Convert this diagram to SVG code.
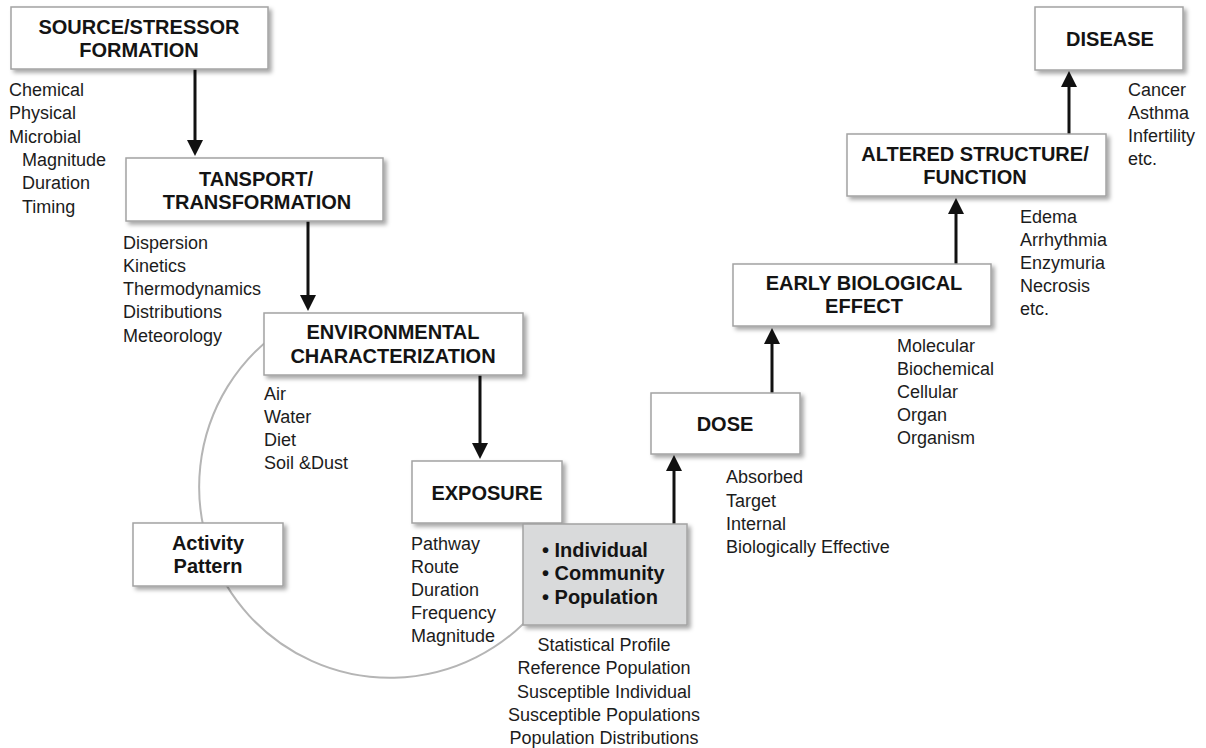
<svg xmlns="http://www.w3.org/2000/svg" width="1206" height="748" viewBox="0 0 1206 748">
<defs>
<filter id="sh" x="-10%" y="-10%" width="125%" height="130%">
<feDropShadow dx="3" dy="3" stdDeviation="2" flood-color="#000" flood-opacity="0.35"/>
</filter>
<marker id="ah" markerUnits="userSpaceOnUse" markerWidth="17" markerHeight="16" refX="6" refY="8" orient="auto">
<path d="M0,0 L16,8 L0,16 z" fill="#111"/>
</marker>
<style>
.box{fill:#fff;stroke:#a3a3a3;stroke-width:1.5;filter:url(#sh)}
.gbox{fill:#d9dadb;stroke:#a3a3a3;stroke-width:1.5;filter:url(#sh)}
.t{font-family:"Liberation Sans",Arial,sans-serif;font-weight:bold;font-size:20px;fill:#141414;text-anchor:middle}
.tl{font-family:"Liberation Sans",Arial,sans-serif;font-weight:bold;font-size:20px;fill:#141414}
.s{font-family:"Liberation Sans",Arial,sans-serif;font-size:18px;fill:#1c1c1c}
.sc{font-family:"Liberation Sans",Arial,sans-serif;font-size:18px;fill:#1c1c1c;text-anchor:middle}
.arr{stroke:#111;stroke-width:3;fill:none;marker-end:url(#ah)}
.arc{stroke:#b5b5b5;stroke-width:2;fill:none}
</style>
</defs>
<rect width="1206" height="748" fill="#fff"/>

<g id="connectors">
<path class="arc" d="M280.4,330.5 A191,191 0 1 0 536.3,609.8"/>
<path class="arr" d="M195,69 L195,146"/>
<path class="arr" d="M308,221 L308,301"/>
<path class="arr" d="M480,374 L480,449"/>
<path class="arr" d="M674,524 L674,465"/>
<path class="arr" d="M772,393 L772,338"/>
<path class="arr" d="M956,264 L956,208"/>
<path class="arr" d="M1069,134 L1069,81"/>
</g>

<g id="source">
<rect class="box" x="11" y="7" width="257" height="62"/>
<text class="t" x="139" y="34">SOURCE/STRESSOR</text>
<text class="t" x="139" y="57">FORMATION</text>
<text class="s" x="9" y="96">Chemical</text>
<text class="s" x="9" y="119">Physical</text>
<text class="s" x="9" y="142.5">Microbial</text>
<text class="s" x="22" y="166">Magnitude</text>
<text class="s" x="22" y="189">Duration</text>
<text class="s" x="22" y="212.5">Timing</text>
</g>

<g id="transport">
<rect class="box" x="126" y="158" width="257" height="63"/>
<text class="t" x="256" y="186">TANSPORT/</text>
<text class="t" x="257" y="208.5">TRANSFORMATION</text>
<text class="s" x="123" y="248.5">Dispersion</text>
<text class="s" x="123" y="271.8">Kinetics</text>
<text class="s" x="123" y="295">Thermodynamics</text>
<text class="s" x="123" y="318.4">Distributions</text>
<text class="s" x="123" y="341.7">Meteorology</text>
</g>

<g id="environmental">
<rect class="box" x="264" y="313" width="259" height="62"/>
<text class="t" x="393" y="339">ENVIRONMENTAL</text>
<text class="t" x="393" y="362.5">CHARACTERIZATION</text>
<text class="s" x="264" y="400">Air</text>
<text class="s" x="264" y="423">Water</text>
<text class="s" x="264" y="446">Diet</text>
<text class="s" x="264" y="469">Soil &amp;Dust</text>
</g>

<g id="activity">
<rect class="box" x="133" y="523" width="150" height="63"/>
<text class="t" x="208" y="549.5">Activity</text>
<text class="t" x="208" y="572.5">Pattern</text>
</g>

<g id="exposure">
<rect class="box" x="412" y="461" width="150" height="62"/>
<text class="t" x="487" y="500">EXPOSURE</text>
<text class="s" x="411" y="550">Pathway</text>
<text class="s" x="411" y="572.5">Route</text>
<text class="s" x="411" y="596">Duration</text>
<text class="s" x="411" y="619">Frequency</text>
<text class="s" x="411" y="642">Magnitude</text>
</g>

<g id="population">
<rect class="gbox" x="523" y="524" width="164" height="101"/>
<text class="tl" x="542" y="557">• Individual</text>
<text class="tl" x="542" y="580">• Community</text>
<text class="tl" x="542" y="603.5">• Population</text>
<text class="sc" x="604" y="651">Statistical Profile</text>
<text class="sc" x="604" y="674">Reference Population</text>
<text class="sc" x="604" y="697.5">Susceptible Individual</text>
<text class="sc" x="604" y="720.5">Susceptible Populations</text>
<text class="sc" x="604" y="743.5">Population Distributions</text>
</g>

<g id="dose">
<rect class="box" x="651" y="393" width="149" height="61"/>
<text class="t" x="725" y="431">DOSE</text>
<text class="s" x="726" y="483">Absorbed</text>
<text class="s" x="726" y="506.5">Target</text>
<text class="s" x="726" y="530">Internal</text>
<text class="s" x="726" y="553">Biologically Effective</text>
</g>

<g id="early">
<rect class="box" x="733" y="264" width="258" height="62"/>
<text class="t" x="864" y="290">EARLY BIOLOGICAL</text>
<text class="t" x="864" y="313">EFFECT</text>
<text class="s" x="897" y="352">Molecular</text>
<text class="s" x="897" y="375">Biochemical</text>
<text class="s" x="897" y="398">Cellular</text>
<text class="s" x="897" y="421">Organ</text>
<text class="s" x="897" y="444">Organism</text>
</g>

<g id="altered">
<rect class="box" x="847" y="134" width="259" height="62"/>
<text class="t" x="975" y="160.5">ALTERED STRUCTURE/</text>
<text class="t" x="975" y="183.5">FUNCTION</text>
<text class="s" x="1020" y="222.5">Edema</text>
<text class="s" x="1020" y="246">Arrhythmia</text>
<text class="s" x="1020" y="268.5">Enzymuria</text>
<text class="s" x="1020" y="291.5">Necrosis</text>
<text class="s" x="1020" y="315">etc.</text>
</g>

<g id="disease">
<rect class="box" x="1035" y="7" width="148" height="63"/>
<text class="t" x="1110" y="45.5">DISEASE</text>
<text class="s" x="1128" y="95.5">Cancer</text>
<text class="s" x="1128" y="118.5">Asthma</text>
<text class="s" x="1128" y="141.5">Infertility</text>
<text class="s" x="1128" y="164.5">etc.</text>
</g>
</svg>
